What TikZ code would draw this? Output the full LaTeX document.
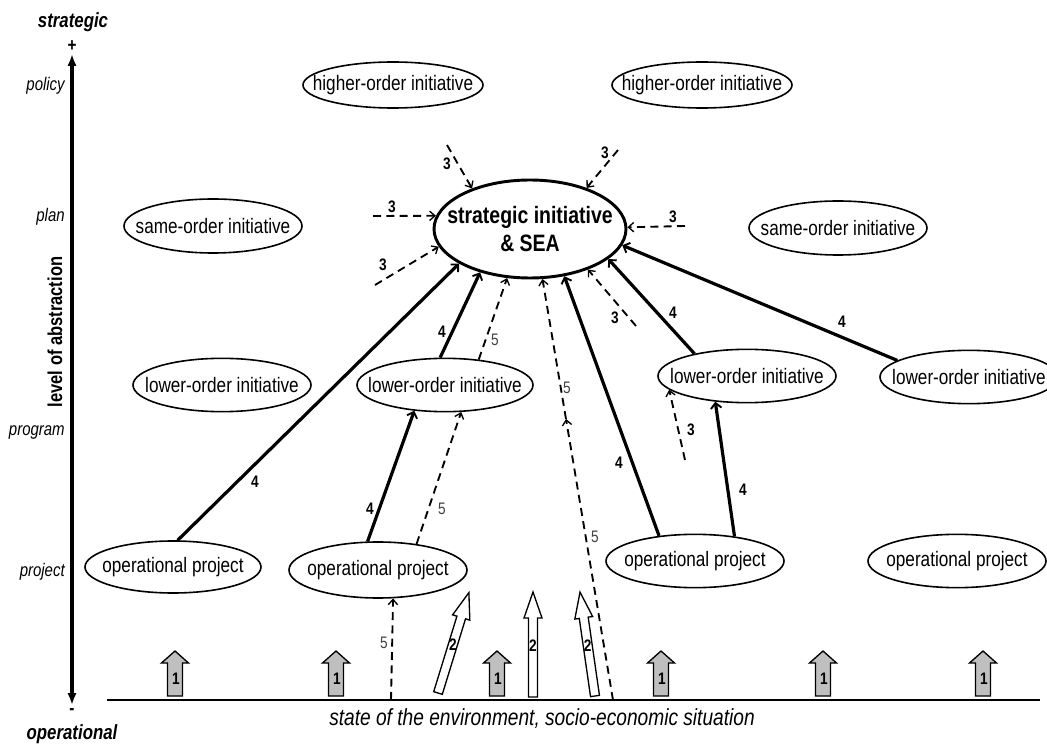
\documentclass[tikz,border=0pt]{standalone}
\usepackage{fontspec}
\setmainfont[FakeStretch=0.82]{Liberation Sans}
\usetikzlibrary{arrows.meta,shapes.geometric}
\tikzset{
  oval/.style={ellipse, draw, line width=1.2pt, inner sep=0pt, minimum width=133.5pt, minimum height=40pt},
  ovaltext/.style={font=\fontsize{15.7}{18}\selectfont},
  solidarr/.style={line width=2.4pt, -{Straight Barb[length=4pt,width=8pt,line width=1.4pt]}},
  dasharr/.style={line width=1.4pt, dash pattern=on 6pt off 4pt, -{Straight Barb[length=4pt,width=7pt,line width=1pt]}},
  num/.style={font=\bfseries\fontsize{12.5}{14}\selectfont, inner sep=0pt},
  numfive/.style={font=\fontsize{12.5}{14}\selectfont, inner sep=0pt, text=black!75},
  lvl/.style={font=\itshape\fontsize{13.7}{16}\selectfont, anchor=east, inner sep=0pt},
  greyarrow/.style={draw, line width=1pt, fill=black!25},
  openarrow/.style={draw, line width=1pt, fill=white},
  blockone/.pic={
    \draw[greyarrow] (-7.5,0) -- (-7.5,-33) -- (-13.5,-33) -- (0,-45) -- (13.5,-33) -- (7.5,-33) -- (7.5,0) -- cycle;
    \node[num] (-t) at (1,-17) {1};
  },
  blocktwo/.pic={
    \draw[openarrow] (-4.5,0) -- (-4.5,-79) -- (-9,-79) -- (0,-105) -- (9,-79) -- (4.5,-79) -- (4.5,0) -- cycle;
    \node[num] (-t) at (0,-51) {2};
  },
}
\begin{document}
\begin{tikzpicture}[x=0.75pt,y=-0.75pt]
\useasboundingbox (0,0) rectangle (1047,745);

% axis
\node[font=\bfseries\itshape\fontsize{15.4}{18}\selectfont, inner sep=0pt] (strat) at (73,22) {strategic};
\node[font=\bfseries\itshape\fontsize{15.4}{18}\selectfont, inner sep=0pt] (oper) at (72,734) {operational};
\node[font=\bfseries\fontsize{14}{16}\selectfont, inner sep=0pt] (plus) at (72,46) {+};
\node[font=\bfseries\fontsize{14}{16}\selectfont, inner sep=0pt] (minus) at (72,712) {-};
\draw[line width=2.3pt, {Latex[length=9pt,width=7pt]}-{Latex[length=9pt,width=7pt]}] (72,54) coordinate (axtop) -- (72,705) coordinate (axbot);
\node[rotate=90, font=\bfseries\fontsize{15.1}{17}\selectfont, inner sep=0pt] (abst) at (55,332) {level of abstraction};
\node[lvl] (policy) at (65,86) {policy};
\node[lvl] (plan) at (65,217) {plan};
\node[lvl] (program) at (65,432) {program};
\node[lvl] (project) at (65,572) {project};

% ground
\coordinate (gl) at (107,700);
\coordinate (gr) at (1040,700);
\draw[line width=0.8pt] (gl) -- (gr);
\node[font=\itshape\fontsize{17.5}{20}\selectfont, inner sep=0pt] (env) at (542,719) {state of the environment, socio-economic situation};

% ellipses
\node[oval, minimum width=135pt, minimum height=34.5pt, label={[ovaltext]center:higher-order initiative}] (hi1) at (393,85) {};
\node[oval, minimum width=135pt, minimum height=34.5pt, label={[ovaltext]center:higher-order initiative}] (hi2) at (702,85) {};
\node[oval, minimum height=40.5pt, label={[ovaltext]center:same-order initiative}] (sameL) at (213,226) {};
\node[oval, minimum height=40.5pt, label={[ovaltext]center:same-order initiative}] (sameR) at (838,228) {};
\node[ellipse, draw, line width=2.2pt, inner sep=0pt, minimum width=144pt, minimum height=73.5pt,
  label={[align=center, font=\bfseries\fontsize{17.8}{21}\selectfont]center:strategic initiative\\\& SEA}] (sea) at (530,229) {};
\node[oval, label={[ovaltext]center:lower-order initiative}] (lowL) at (222,385) {};
\node[oval, minimum width=132pt, label={[ovaltext]center:lower-order initiative}] (lowC) at (445,385) {};
\node[oval, label={[ovaltext]center:lower-order initiative}] (lowR) at (747,376) {};
\node[oval, label={[ovaltext]center:lower-order initiative}] (lowFR) at (969,377) {};
\node[oval, minimum width=132pt, minimum height=39pt, label={[ovaltext]center:operational project}] (op1) at (173,567) {};
\node[oval, minimum height=42pt, label={[ovaltext]center:operational project}] (op2) at (378,570) {};
\node[oval, label={[ovaltext]center:operational project}] (op3) at (695,561) {};
\node[oval, label={[ovaltext]center:operational project}] (op4) at (957,561) {};

% solid connectors (4)
\draw[solidarr] (op1.80) -- (sea.206);
\draw[solidarr] (op2.110) -- (lowC.220);
\draw[solidarr] (lowC.100) -- (sea.221);
\draw[solidarr] (op3.145) -- (sea.306);
\draw[solidarr] (op3.32) -- (lowR.219);
\draw[solidarr] (lowR.157) -- (sea.339);
\draw[solidarr] (lowFR.167) -- (sea.350);

% dashed connectors (5)
\coordinate (g5a) at (391,700);
\coordinate (g5b) at (613,700);
\coordinate (m5) at (566,419);
\draw[dasharr] (op2.34) -- (lowC.301);
\draw[dasharr] (lowC.37) -- (sea.245);
\draw[dasharr] (g5b) -- (m5);
\draw[dasharr] (m5) -- (sea.284);
\draw[dasharr] (g5a) -- (op2.298);

% dashed connectors (3)
\coordinate (c3a) at (447,145);
\coordinate (c3b) at (618,150);
\coordinate (c3c) at (373,216);
\coordinate (c3d) at (375,285);
\coordinate (c3e) at (685,226);
\coordinate (c3f) at (636,326);
\coordinate (c3g) at (685,460);
\draw[dasharr] (c3a) -- (sea.145);
\draw[dasharr] (c3b) -- (sea.36);
\draw[dasharr] (c3c) -- (sea.172);
\draw[dasharr] (c3d) -- (sea.191);
\draw[dasharr] (c3e) -- (sea.1);
\draw[dasharr] (c3f) -- (sea.325);
\draw[dasharr] (c3g) -- (lowR.190);

% labels
\node[num] (n4a) at (255,482) {4};
\node[num] (n4b) at (370,509) {4};
\node[num] (n4c) at (442,332) {4};
\node[num] (n4d) at (619,463) {4};
\node[num] (n4e) at (743,490) {4};
\node[num] (n4f) at (673,313) {4};
\node[num] (n4g) at (842,322) {4};
\node[numfive] (n5a) at (442,509) {5};
\node[numfive] (n5b) at (495,340) {5};
\node[numfive] (n5c) at (567,388) {5};
\node[numfive] (n5d) at (595,537) {5};
\node[numfive] (n5e) at (384,643) {5};
\node[num] (n3a) at (447,164) {3};
\node[num] (n3b) at (605,153) {3};
\node[num] (n3c) at (392,207) {3};
\node[num] (n3d) at (383,265) {3};
\node[num] (n3e) at (673,217) {3};
\node[num] (n3f) at (615,318) {3};
\node[num] (n3g) at (691,430) {3};

% block arrows
\pic (b1a) at (175,696) {blockone};
\pic (b1b) at (336,696) {blockone};
\pic (b1c) at (497,696) {blockone};
\pic (b1d) at (661,696) {blockone};
\pic (b1e) at (823,696) {blockone};
\pic (b1f) at (983,696) {blockone};
\pic[rotate=-17.1] (b2a) at (438,693) {blocktwo};
\pic (b2b) at (533,697) {blocktwo};
\pic[rotate=8.2] (b2c) at (595,696) {blocktwo};
\end{tikzpicture}
\end{document}
